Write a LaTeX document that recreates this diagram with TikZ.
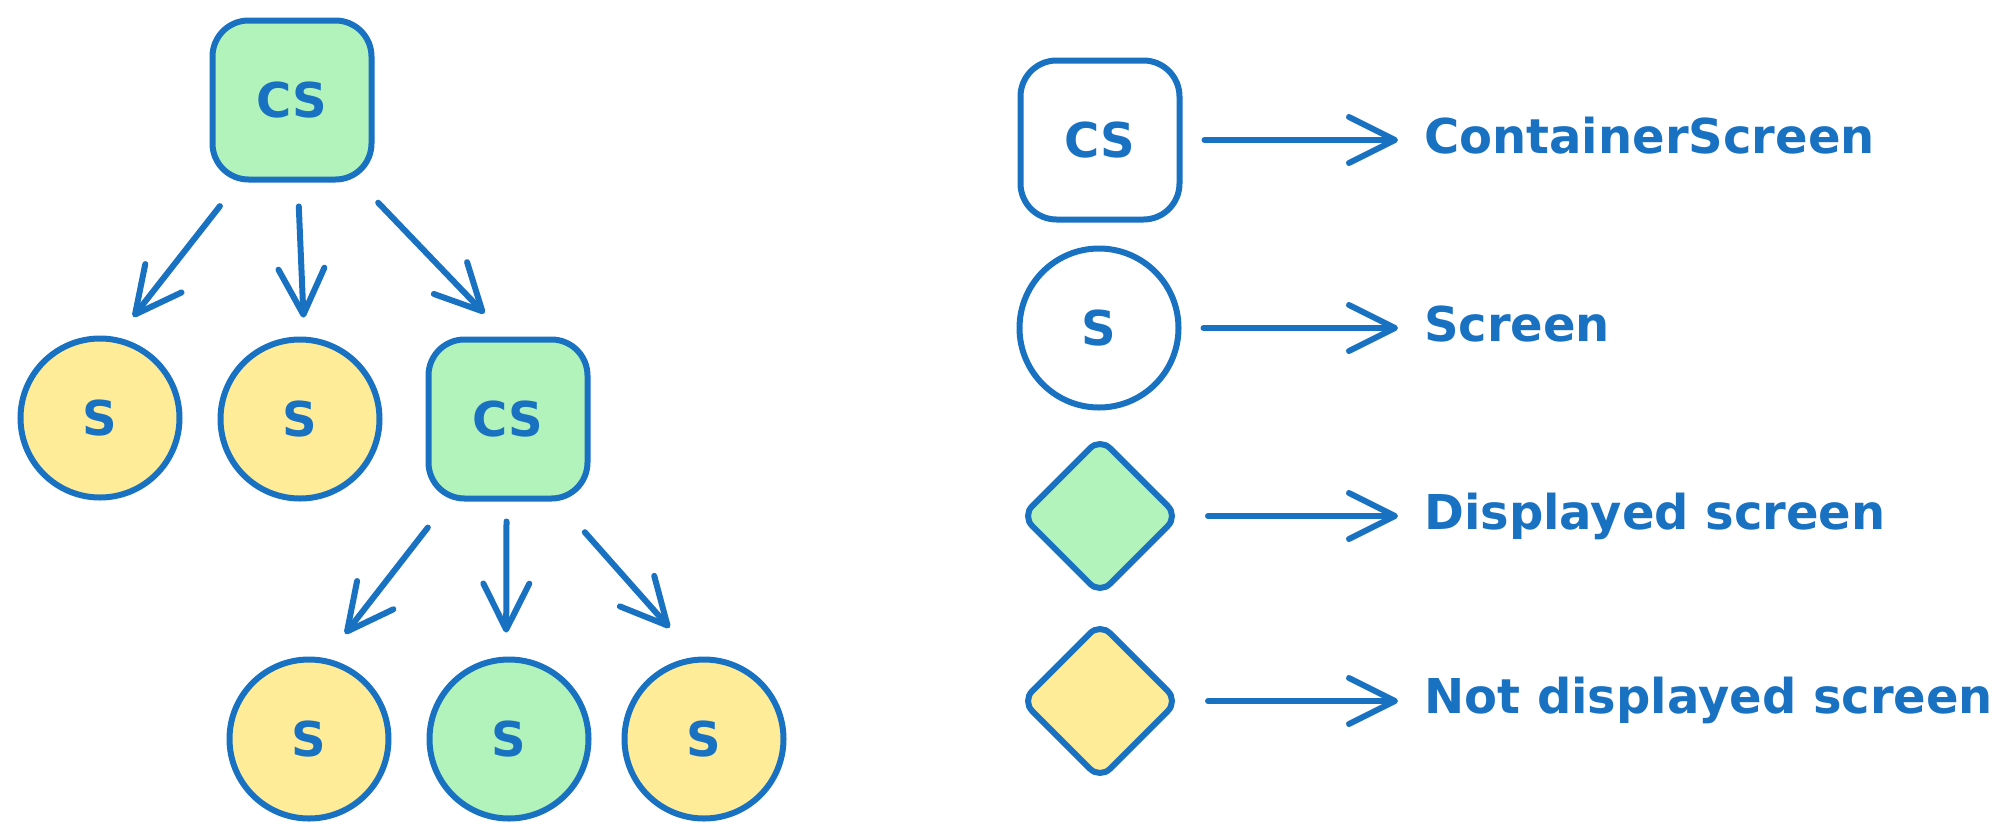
\documentclass[tikz,border=0pt]{standalone}
\usepackage{fontspec}
\setmainfont{DejaVu Sans}
\usetikzlibrary{arrows.meta,shapes.geometric}
\definecolor{sblue}{HTML}{1971C2}
\definecolor{sgreen}{HTML}{B2F2BB}
\definecolor{syellow}{HTML}{FFEC99}
\tikzset{
  base/.style={draw=sblue, line width=6pt, text=sblue, inner sep=0pt,
    font=\fontsize{48}{56}\selectfont\bfseries},
  csbox/.style={base, rectangle, rounded corners=36pt, minimum width=159pt, minimum height=159pt},
  scirc/.style={base, circle, minimum size=159pt},
  dmd/.style={base, diamond, rounded corners=14pt, minimum width=158pt, minimum height=158pt},
  lbl/.style={text=sblue, inner sep=0pt, anchor=base west, font=\fontsize{48}{56}\selectfont\bfseries},
  conn/.style={draw=sblue, line width=6pt, line cap=round,
    -{Straight Barb[length=46pt, width=46pt, line cap=round, line join=round]}},
  gfill/.style={fill=sgreen},
  yfill/.style={fill=syellow},
  wfill/.style={fill=white}
}
\begin{document}
\begin{tikzpicture}[x=1pt,y=-1pt]
\useasboundingbox (0,0) rectangle (2011,839);
% tree
\node[csbox,gfill] (top) at (292,100) {CS};
\node[scirc,yfill] (c1) at (100,418) {S};
\node[scirc,yfill] (c2) at (300,419) {S};
\node[csbox,gfill] (mid) at (508,419) {CS};
\node[scirc,yfill] (c3) at (309,739) {S};
\node[scirc,gfill] (c4) at (509,739) {S};
\node[scirc,yfill] (c5) at (704,739) {S};
\draw[conn, shorten <=30pt, shorten >=26pt] (top.-123.6) -- (c1.78.8);
\draw[conn, shorten <=24pt, shorten >=19pt] (top.-86.6) -- (c2.87.3);
\draw[conn, shorten <=28pt, shorten >=32pt] (top.-51.6) -- (mid.91.9);
\draw[conn, shorten <=33pt, shorten >=31pt] (mid.-126.1) -- (c3.78.9);
\draw[conn, shorten <=20pt, shorten >=24pt] (mid.-91.4) -- (c4.92.1);
\draw[conn, shorten <=41pt, shorten >=39pt] (mid.-59.6) -- (c5.96.9);
% legend
\node[csbox,wfill] (lcs) at (1100,140) {CS};
\node[scirc,wfill] (ls) at (1099,328) {S};
\node[dmd,gfill] (ld) at (1100,516) {};
\node[dmd,yfill] (ln) at (1100,701) {};
\node[lbl] (tcs) at (1424,153) {ContainerScreen};
\node[lbl] (ts) at (1424,341) {Screen};
\node[lbl] (td) at (1424,529) {Displayed screen};
\node[lbl] (tn) at (1424,713) {Not displayed screen};
\draw[conn, shorten <=22pt, shorten >=26pt] (lcs.east) -- (lcs.east -| tcs.west);
\draw[conn, shorten <=22pt, shorten >=26pt] (ls.east) -- (ls.east -| ts.west);
\draw[conn, shorten <=26pt, shorten >=26pt] (ld.east) -- (ld.east -| td.west);
\draw[conn, shorten <=26pt, shorten >=26pt] (ln.east) -- (ln.east -| tn.west);
\end{tikzpicture}
\end{document}
